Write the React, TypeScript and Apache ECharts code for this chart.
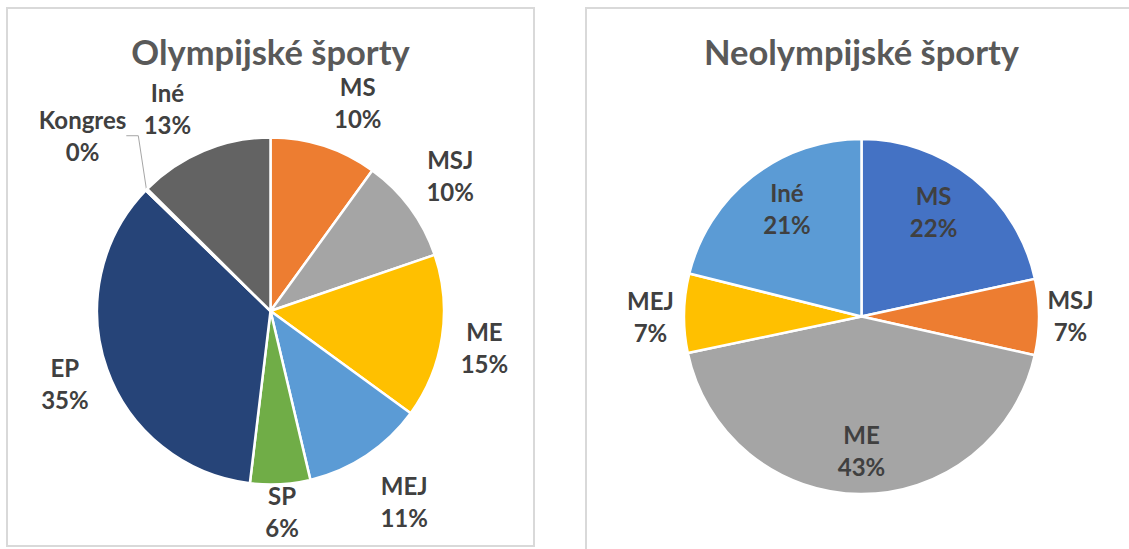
import React, { useEffect, useRef } from "react";
import * as echarts from "echarts";

// ---- data ----
const olyNames = ["MS", "MSJ", "ME", "MEJ", "SP", "EP", "Kongres", "Iné"];
const olyValues = [10.0, 9.8, 15.3, 11.3, 5.6, 35.4, 0.2, 12.6];
const olyColors = ["#ED7D31", "#A5A5A5", "#FFC000", "#5B9BD5", "#70AD47", "#264478", "#9E480E", "#636363"];

const neoNames = ["MS", "MSJ", "ME", "MEJ", "Iné"];
const neoValues = [21.6, 6.9, 43.2, 7.2, 21.1];
const neoColors = ["#4472C4", "#ED7D31", "#A5A5A5", "#FFC000", "#5B9BD5"];

const titles = ["Olympijské športy", "Neolympijské športy"];

// ---- layout (label anchor: [angle from 12 o'clock in degrees, distance from centre]) ----
const olyLabelPolar = [
  [22.7, 226], [53, 225], [99.7, 217], [145, 233], [176.7, 201], [250.6, 218], [313, 257], [333, 227],
];
const neoLabelPolar = [
  [34.6, 127], [89.6, 209], [180, 133.5], [270, 211], [325.5, 131.6],
];

const C1 = { x: 270.5, y: 311, r: 173.5 };
const C2 = { x: 861.5, y: 316.5, r: 177.5 };

const FONT = "Lato, 'Noto Sans', sans-serif";

function polarLayout(center: { x: number; y: number }, polar: number[][]) {
  return (p: any) => {
    const [ang, d] = polar[p.dataIndex];
    const a = (ang * Math.PI) / 180;
    return {
      x: center.x + d * Math.sin(a),
      y: center.y - d * Math.cos(a),
      align: "center",
      verticalAlign: "middle",
    };
  };
}

const labelStyle = {
  show: true,
  fontFamily: FONT,
  fontWeight: "bold",
  fontSize: 24,
  lineHeight: 32,
  color: "#404040",
  formatter: (p: any) => `${p.name}\n${Math.round(p.percent)}%`,
};

const titleStyle = { fontFamily: FONT, fontWeight: "bold", fontSize: 34.5, color: "#595959" };

export default function App() {
  const ref = useRef<HTMLDivElement>(null);
  useEffect(() => {
    if (!ref.current) return;
    const chart = echarts.init(ref.current, undefined, { renderer: "svg" });
    chart.setOption({
      animation: false,
      backgroundColor: "#ffffff",
      title: [
        { text: titles[0], left: C1.x, top: 34, textAlign: "center", padding: 0, textStyle: titleStyle },
        { text: titles[1], left: C2.x, top: 34, textAlign: "center", padding: 0, textStyle: titleStyle },
      ],
      graphic: [
        {
          type: "rect",
          shape: { x: 7, y: 8, width: 527, height: 538 },
          style: { fill: "none", stroke: "#d9d9d9", lineWidth: 2 },
          silent: true,
        },
        {
          type: "rect",
          shape: { x: 586, y: 8, width: 700, height: 700 },
          style: { fill: "none", stroke: "#d9d9d9", lineWidth: 2 },
          silent: true,
        },
      ],
      series: [
        {
          type: "pie",
          silent: true,
          center: [C1.x, C1.y],
          radius: C1.r,
          startAngle: 90,
          clockwise: true,
          avoidLabelOverlap: false,
          itemStyle: { borderColor: "#ffffff", borderWidth: 2.5 },
          label: { ...labelStyle, position: "outside" },
          labelLine: { show: false },
          labelLayout: polarLayout(C1, olyLabelPolar),
          data: olyNames.map((n, i) => ({
            name: n,
            value: olyValues[i],
            itemStyle: { color: olyColors[i] },
            labelLine:
              n === "Kongres"
                ? { show: true, length: 8, length2: 12, smooth: false, lineStyle: { color: "#a6a6a6", width: 1 } }
                : { show: false },
          })),
        },
        {
          type: "pie",
          silent: true,
          center: [C2.x, C2.y],
          radius: C2.r,
          startAngle: 90,
          clockwise: true,
          avoidLabelOverlap: false,
          itemStyle: { borderColor: "#ffffff", borderWidth: 2.5 },
          label: { ...labelStyle, position: "outside" },
          labelLine: { show: false },
          labelLayout: polarLayout(C2, neoLabelPolar),
          data: neoNames.map((n, i) => ({
            name: n,
            value: neoValues[i],
            itemStyle: { color: neoColors[i] },
          })),
        },
      ],
    });
    return () => chart.dispose();
  }, []);
  return (
    <div
      ref={ref}
      style={{ position: "fixed", left: 0, top: 0, width: 1129, height: 549 }}
    />
  );
}
